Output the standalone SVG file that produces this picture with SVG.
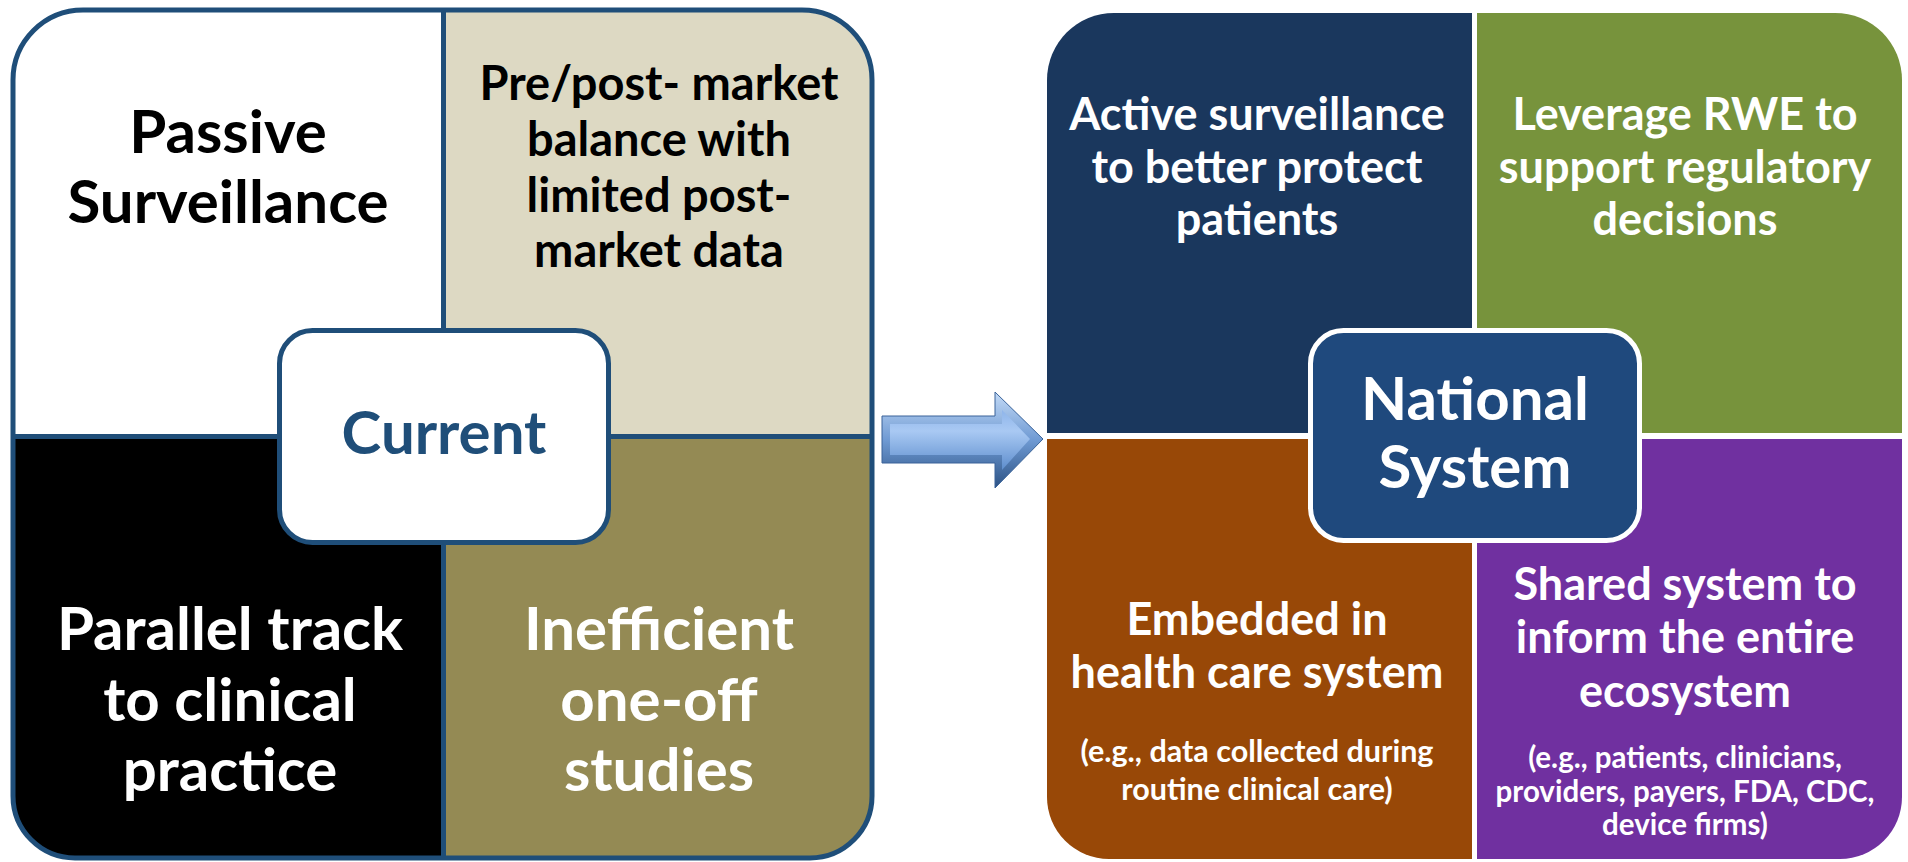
<svg xmlns="http://www.w3.org/2000/svg" width="1908" height="862" viewBox="0 0 1908 862">
<style>
text{font-family:Lato,"Open Sans","Liberation Sans",sans-serif;font-weight:bold;text-anchor:middle}
.big{font-size:60px}
.mid{font-size:45px}
.pre{font-size:47px}
.smallL{font-size:30.5px}
.smallR{font-size:29.5px}
.ctr{font-size:60px}
.blk{fill:#000}
.wht{fill:#fff}
.navy{fill:#1f4e79}
.div-blue{stroke:#1f4e79;stroke-width:5;fill:none}
.div-white{stroke:#fff;fill:none}
</style>
<defs>
<clipPath id="clipL"><path d="M83,10 H802 A70,70 0 0 1 872,80 V796 A62,62 0 0 1 810,858 H75 A62,62 0 0 1 13,796 V80 A70,70 0 0 1 83,10 Z"/></clipPath>
<clipPath id="clipR"><path d="M1114,13 H1835 A67,67 0 0 1 1902,80 V797 A62,62 0 0 1 1840,859 H1109 A62,62 0 0 1 1047,797 V80 A67,67 0 0 1 1114,13 Z"/></clipPath>
<linearGradient id="arrOuter" x1="0" y1="0" x2="0" y2="1">
<stop offset="0" stop-color="#c3daf6"/>
<stop offset="0.5" stop-color="#6f9ad3"/>
<stop offset="1" stop-color="#2c5285"/>
</linearGradient>
<linearGradient id="arrInner" x1="0" y1="0" x2="0" y2="1">
<stop offset="0" stop-color="#8fb5ea"/>
<stop offset="0.35" stop-color="#a9c9f3"/>
<stop offset="1" stop-color="#5d8dcd"/>
</linearGradient>
</defs>
<rect width="1908" height="862" fill="#fff"/>

<g id="current-frame">
<g clip-path="url(#clipL)">
<rect x="13" y="10" width="431" height="427" fill="#fff"/>
<rect x="443" y="10" width="430" height="427" fill="#ddd9c3"/>
<rect x="13" y="436" width="431" height="423" fill="#000"/>
<rect x="443" y="436" width="430" height="423" fill="#948a54"/>
</g>
<line class="div-blue" x1="443.5" y1="10" x2="443.5" y2="858"/>
<line class="div-blue" x1="13" y1="436.5" x2="872" y2="436.5"/>
<path class="div-blue" d="M83,10 H802 A70,70 0 0 1 872,80 V796 A62,62 0 0 1 810,858 H75 A62,62 0 0 1 13,796 V80 A70,70 0 0 1 83,10 Z"/>
</g>

<g id="passive-surveillance">
<text class="big blk" x="228" y="153">Passive</text>
<text class="big blk" x="228" y="223">Surveillance</text>
</g>
<g id="pre-post-market">
<text class="pre blk" x="659" y="100">Pre/post- market</text>
<text class="pre blk" x="659" y="156">balance with</text>
<text class="pre blk" x="659" y="212">limited post-</text>
<text class="pre blk" x="659" y="267">market data</text>
</g>
<g id="parallel-track">
<text class="big wht" x="230" y="650">Parallel track</text>
<text class="big wht" x="230" y="721">to clinical</text>
<text class="big wht" x="230" y="791">practice</text>
</g>
<g id="inefficient-studies">
<text class="big wht" x="659" y="650">Inefficient</text>
<text class="big wht" x="659" y="721">one-off</text>
<text class="big wht" x="659" y="791">studies</text>
</g>
<g id="current">
<rect x="279.5" y="330.5" width="329" height="212" rx="33" fill="#fff" stroke="#1f4e79" stroke-width="5"/>
<text class="ctr navy" x="444" y="454">Current</text>
</g>

<g id="national-frame">
<g clip-path="url(#clipR)">
<rect x="1047" y="13" width="428" height="424" fill="#1a375d"/>
<rect x="1474" y="13" width="428" height="424" fill="#77933c"/>
<rect x="1047" y="436" width="428" height="423" fill="#984807"/>
<rect x="1474" y="436" width="428" height="423" fill="#7030a0"/>
</g>
<line class="div-white" stroke-width="5" x1="1474.5" y1="10" x2="1474.5" y2="862"/>
<line class="div-white" stroke-width="6" x1="1044" y1="436" x2="1905" y2="436"/>
</g>

<g id="active-surveillance">
<text class="mid wht" x="1257" y="130">Active surveillance</text>
<text class="mid wht" x="1257" y="183">to better protect</text>
<text class="mid wht" x="1257" y="235">patients</text>
</g>
<g id="leverage-rwe">
<text class="mid wht" x="1685" y="130">Leverage RWE to</text>
<text class="mid wht" x="1685" y="183">support regulatory</text>
<text class="mid wht" x="1685" y="235">decisions</text>
</g>
<g id="embedded">
<text class="mid wht" x="1257" y="635">Embedded in</text>
<text class="mid wht" x="1257" y="688">health care system</text>
<text class="smallL wht" x="1257" y="762">(e.g., data collected during</text>
<text class="smallL wht" x="1257" y="800">routine clinical care)</text>
</g>
<g id="shared-system">
<text class="mid wht" x="1685" y="600">Shared system to</text>
<text class="mid wht" x="1685" y="653">inform the entire</text>
<text class="mid wht" x="1685" y="707">ecosystem</text>
<text class="smallR wht" x="1685" y="768">(e.g., patients, clinicians,</text>
<text class="smallR wht" x="1685" y="802">providers, payers, FDA, CDC,</text>
<text class="smallR wht" x="1685" y="835">device firms)</text>
</g>
<g id="national-system">
<rect x="1310.5" y="330.5" width="329" height="210" rx="33" fill="#1f497d" stroke="#fff" stroke-width="5"/>
<text class="ctr wht" x="1475" y="420">National</text>
<text class="ctr wht" x="1475" y="488">System</text>
</g>

<g id="connectors">
<polygon points="882,416 995,416 995,392 1043,439 995,488 995,463 882,463" fill="url(#arrOuter)" stroke="#3a6399" stroke-width="1"/>
<polygon points="890,424 1002,424 1002,410 1030,439 1002,470 1002,455 890,455" fill="url(#arrInner)"/>
</g>
</svg>
